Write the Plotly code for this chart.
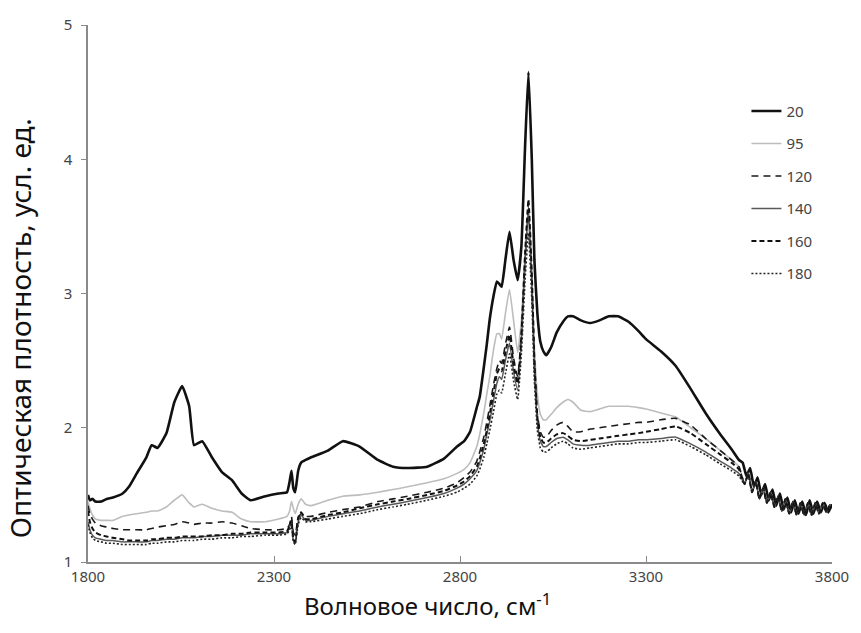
import plotly.graph_objects as go

# Wavenumber grid (cm^-1) for the main part of the spectra
wavenumber = [1800, 1805, 1812, 1820, 1835, 1850, 1867, 1893, 1910, 1931, 1957, 1971, 1987, 2011,
              2032, 2053, 2072, 2085, 2107, 2133, 2160, 2187, 2213, 2237, 2277, 2312, 2335, 2342,
              2347, 2352, 2357, 2365, 2373, 2385, 2400, 2445, 2485, 2530, 2579, 2620, 2659, 2712,
              2757, 2792, 2811, 2827, 2845, 2853, 2864, 2872, 2880, 2890, 2899, 2906, 2912, 2922,
              2933, 2944, 2955, 2965, 2975, 2984, 2993, 3000, 3008, 3016, 3024, 3032, 3045, 3060,
              3077, 3090, 3104, 3125, 3150, 3175, 3200, 3225, 3253, 3280, 3300, 3340, 3380, 3420,
              3460, 3500, 3530, 3550]

y20 = [1.50, 1.46, 1.47, 1.45, 1.45, 1.47, 1.48, 1.51, 1.56, 1.66, 1.78, 1.87, 1.85, 1.96,
       2.19, 2.31, 2.16, 1.87, 1.90, 1.78, 1.67, 1.61, 1.51, 1.46, 1.49, 1.51, 1.52, 1.60,
       1.68, 1.55, 1.52, 1.68, 1.74, 1.76, 1.78, 1.83, 1.90, 1.86, 1.76, 1.71, 1.70, 1.71,
       1.77, 1.86, 1.90, 1.97, 2.15, 2.23, 2.45, 2.62, 2.81, 2.98, 3.09, 3.07, 3.05, 3.25,
       3.46, 3.25, 3.10, 3.35, 4.10, 4.65, 4.00, 3.25, 2.85, 2.64, 2.57, 2.54, 2.60, 2.71,
       2.79, 2.83, 2.83, 2.80, 2.78, 2.80, 2.83, 2.83, 2.79, 2.72, 2.66, 2.57, 2.46, 2.29,
       2.11, 1.95, 1.84, 1.76]

y95 = [1.45, 1.40, 1.35, 1.32, 1.31, 1.31, 1.31, 1.34, 1.35, 1.36, 1.37, 1.38, 1.38, 1.41,
       1.46, 1.50, 1.44, 1.41, 1.43, 1.40, 1.38, 1.37, 1.32, 1.30, 1.30, 1.32, 1.34, 1.38,
       1.45, 1.40, 1.36, 1.43, 1.47, 1.43, 1.42, 1.46, 1.49, 1.50, 1.52, 1.54, 1.56, 1.59,
       1.62, 1.66, 1.69, 1.74, 1.86, 1.95, 2.11, 2.25, 2.38, 2.58, 2.70, 2.70, 2.66, 2.85,
       3.03, 2.80, 2.56, 2.80, 3.30, 3.55, 3.10, 2.60, 2.25, 2.10, 2.06, 2.06, 2.10, 2.15,
       2.19, 2.21, 2.19, 2.13, 2.12, 2.14, 2.16, 2.16, 2.16, 2.15, 2.14, 2.11, 2.08, 2.00,
       1.92, 1.83, 1.76, 1.71]

y120 = [1.42, 1.36, 1.32, 1.29, 1.27, 1.26, 1.25, 1.24, 1.24, 1.24, 1.24, 1.25, 1.26, 1.27,
        1.28, 1.30, 1.29, 1.28, 1.29, 1.29, 1.30, 1.29, 1.27, 1.25, 1.24, 1.24, 1.25, 1.28,
        1.34, 1.22, 1.20, 1.33, 1.36, 1.34, 1.34, 1.37, 1.39, 1.41, 1.45, 1.47, 1.49, 1.52,
        1.55, 1.59, 1.63, 1.67, 1.75, 1.82, 1.93, 2.04, 2.16, 2.32, 2.44, 2.50, 2.48, 2.62,
        2.75, 2.52, 2.38, 2.70, 3.25, 3.62, 3.10, 2.50, 2.10, 1.97, 1.93, 1.93, 1.98, 2.02,
        2.04, 2.01, 1.97, 1.97, 1.99, 2.00, 2.01, 2.02, 2.03, 2.04, 2.04, 2.06, 2.07, 2.02,
        1.92, 1.83, 1.76, 1.71]

y140 = [1.30, 1.24, 1.20, 1.18, 1.17, 1.16, 1.16, 1.15, 1.15, 1.15, 1.15, 1.16, 1.16, 1.17,
        1.17, 1.18, 1.18, 1.18, 1.19, 1.19, 1.20, 1.20, 1.20, 1.21, 1.21, 1.21, 1.22, 1.26,
        1.30, 1.16, 1.14, 1.30, 1.35, 1.31, 1.31, 1.34, 1.36, 1.38, 1.41, 1.43, 1.45, 1.48,
        1.51, 1.55, 1.58, 1.62, 1.68, 1.74, 1.84, 1.95, 2.05, 2.20, 2.33, 2.38, 2.36, 2.50,
        2.63, 2.42, 2.28, 2.65, 3.25, 3.65, 3.10, 2.45, 2.05, 1.90, 1.86, 1.86, 1.89, 1.92,
        1.93, 1.91, 1.88, 1.87, 1.87, 1.88, 1.89, 1.90, 1.90, 1.91, 1.91, 1.92, 1.93, 1.88,
        1.82, 1.75, 1.70, 1.66]

y160 = [1.38, 1.30, 1.25, 1.22, 1.20, 1.19, 1.18, 1.17, 1.16, 1.16, 1.16, 1.17, 1.17, 1.18,
        1.18, 1.19, 1.19, 1.19, 1.19, 1.20, 1.20, 1.21, 1.21, 1.22, 1.22, 1.22, 1.23, 1.27,
        1.31, 1.17, 1.15, 1.33, 1.37, 1.32, 1.32, 1.35, 1.37, 1.40, 1.43, 1.45, 1.47, 1.50,
        1.53, 1.57, 1.60, 1.64, 1.71, 1.77, 1.88, 1.98, 2.10, 2.26, 2.40, 2.44, 2.42, 2.56,
        2.69, 2.47, 2.33, 2.68, 3.30, 3.70, 3.15, 2.50, 2.08, 1.93, 1.89, 1.89, 1.92, 1.95,
        1.96, 1.94, 1.91, 1.90, 1.91, 1.92, 1.93, 1.94, 1.95, 1.96, 1.97, 1.99, 2.01, 1.96,
        1.88, 1.80, 1.74, 1.69]

y180 = [1.28, 1.22, 1.18, 1.16, 1.15, 1.14, 1.14, 1.13, 1.13, 1.13, 1.13, 1.14, 1.14, 1.15,
        1.15, 1.16, 1.16, 1.16, 1.17, 1.17, 1.18, 1.18, 1.19, 1.19, 1.20, 1.20, 1.21, 1.24,
        1.28, 1.15, 1.13, 1.28, 1.33, 1.30, 1.30, 1.32, 1.34, 1.36, 1.39, 1.41, 1.43, 1.46,
        1.49, 1.52, 1.55, 1.58, 1.64, 1.69, 1.78, 1.88, 1.98, 2.12, 2.25, 2.28, 2.26, 2.40,
        2.55, 2.35, 2.21, 2.55, 3.10, 3.45, 2.95, 2.35, 1.98, 1.85, 1.82, 1.82, 1.85, 1.88,
        1.90, 1.88, 1.85, 1.84, 1.85, 1.86, 1.87, 1.88, 1.88, 1.89, 1.89, 1.90, 1.91, 1.86,
        1.80, 1.73, 1.68, 1.64]

# Noisy high-wavenumber tail
tail_x_20 = [3560, 3570, 3580, 3590, 3600, 3610, 3620, 3630, 3640, 3650, 3660, 3670, 3680,
             3690, 3700, 3710, 3720, 3730, 3740, 3750, 3760, 3770, 3780, 3790, 3800]
tail_y_20 = [1.74, 1.64, 1.70, 1.56, 1.63, 1.50, 1.58, 1.46, 1.54, 1.42, 1.51, 1.39, 1.48,
             1.37, 1.46, 1.36, 1.45, 1.35, 1.46, 1.36, 1.45, 1.37, 1.44, 1.37, 1.43]
tail_x_rest = [3565, 3575, 3585, 3595, 3605, 3615, 3625, 3635, 3645, 3655, 3665, 3675, 3685,
               3695, 3705, 3715, 3725, 3735, 3745, 3755, 3765, 3775, 3785, 3795]
tail_y_rest = [1.58, 1.66, 1.52, 1.60, 1.47, 1.55, 1.44, 1.52, 1.41, 1.49, 1.38, 1.47, 1.36,
               1.45, 1.35, 1.44, 1.35, 1.44, 1.35, 1.44, 1.36, 1.44, 1.37, 1.43]

series_names = ["20", "95", "120", "140", "160", "180"]

x_ticks = [1800, 2300, 2800, 3300, 3800]
y_ticks = [1, 2, 3, 4, 5]

x_title = "Волновое число, см<sup>-1</sup>"
y_title = "Оптическая плотность, усл. ед."

styles = {
    "20": dict(color="#111111", width=2.6, dash="solid"),
    "95": dict(color="#bdbdbd", width=1.6, dash="solid"),
    "120": dict(color="#1a1a1a", width=1.6, dash="7px,5px"),
    "140": dict(color="#5a5a5a", width=1.5, dash="solid"),
    "160": dict(color="#111111", width=2.0, dash="5px,3px"),
    "180": dict(color="#222222", width=1.6, dash="2px,2px"),
}

data = {"20": y20, "95": y95, "120": y120, "140": y140, "160": y160, "180": y180}

fig = go.Figure()
for name in series_names:
    if name == "20":
        xs = wavenumber + tail_x_20
        ys = data[name] + tail_y_20
    else:
        xs = wavenumber + tail_x_rest
        ys = data[name] + tail_y_rest
    fig.add_trace(go.Scatter(x=xs, y=ys, mode="lines", name=name, legendgroup=name,
                             line=dict(shape="spline", smoothing=0.4, **styles[name])))

font_family = "Noto Sans, Open Sans, sans-serif"
fig.update_layout(
    width=861, height=633,
    margin=dict(l=88, r=23, t=25, b=71),
    paper_bgcolor="white", plot_bgcolor="white",
    font=dict(family=font_family, color="#444444"),
    showlegend=True,
    legend=dict(x=0.885, y=0.87, xanchor="left", yanchor="top",
                bgcolor="rgba(0,0,0,0)", font=dict(size=15, color="#444444"),
                tracegroupgap=10, itemwidth=30),
    xaxis=dict(range=[1800, 3800], tickvals=x_ticks, ticktext=[str(v) for v in x_ticks],
               showline=True, linecolor="#8a8a8a", linewidth=1.5, showgrid=False,
               zeroline=False, ticks="inside", ticklen=6, tickcolor="#8a8a8a",
               tickfont=dict(size=15, color="#444444")),
    yaxis=dict(range=[1, 5], tickvals=y_ticks, showline=True, linecolor="#8a8a8a",
               linewidth=1.5, showgrid=False, zeroline=False, ticks="outside", ticklen=5,
               tickcolor="#8a8a8a", tickfont=dict(size=15, color="#444444"),
               ticklabelstandoff=6),
    annotations=[
        dict(text=x_title, xref="paper", yref="paper", x=0.456, y=-0.080,
             xanchor="center", yanchor="middle", showarrow=False,
             font=dict(size=24, color="#111111", family=font_family)),
        dict(text=y_title, xref="paper", yref="paper", x=-0.091, y=0.436,
             xanchor="center", yanchor="middle", showarrow=False, textangle=-90,
             font=dict(size=28, color="#111111", family=font_family)),
    ],
)

fig.write_html("out.html")
